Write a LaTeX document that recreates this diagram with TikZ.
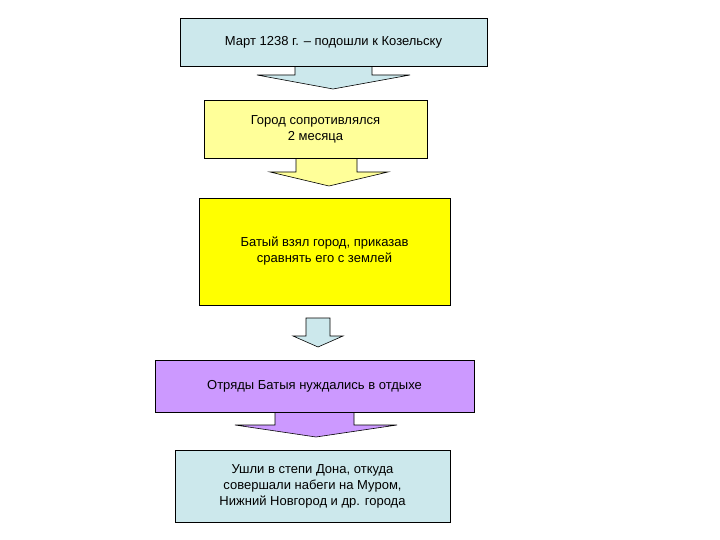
\documentclass[tikz,border=0pt]{standalone}
\usepackage{fontspec}
\setmainfont{Liberation Sans}
\definecolor{cy}{HTML}{CCE8EC}
\definecolor{ly}{HTML}{FFFF99}
\definecolor{yy}{HTML}{FFFF00}
\definecolor{lv}{HTML}{CC99FF}
\begin{document}
\begin{tikzpicture}[x=1pt,y=-1pt,
  box/.style={draw=black,line width=0.8pt,align=center,font=\fontsize{13}{16}\selectfont,inner sep=0pt},
  arr/.style={draw=black,line width=0.6pt}]
\useasboundingbox (0,0) rectangle (720,540);
% arrows (behind boxes)
\draw[arr,fill=cy] (295,60) -- (295,75) -- (257,75) -- (333,89) -- (410,75) -- (372,75) -- (372,60) -- cycle;
\draw[arr,fill=ly] (296,150) -- (296,172) -- (270,172) -- (329,186) -- (388,172) -- (357,172) -- (357,150) -- cycle;
\draw[arr,fill=cy] (306,318) -- (306,336) -- (293,336) -- (318,347) -- (343,336) -- (330,336) -- (330,318) -- cycle;
\draw[arr,fill=lv] (275,405) -- (275,425) -- (235,425) -- (316,437) -- (397,425) -- (354,425) -- (354,405) -- cycle;
% boxes
\node[box,fill=cy,minimum width=307,minimum height=48] (b1) at (333.5,42) {Март 1238 г. – подошли к Козельску};
\node[box,fill=ly,minimum width=223,minimum height=58] (b2) at (315.5,129) {Город сопротивлялся\\2 месяца};
\node[box,fill=yy,minimum width=251,minimum height=107] (b3) at (324.5,251.5) {Батый взял город, приказав\\сравнять его с землей};
\node[box,fill=lv,minimum width=319,minimum height=52] (b4) at (314.5,386) {Отряды Батыя нуждались в отдыхе};
\node[box,fill=cy,minimum width=275,minimum height=72] (b5) at (312.5,486) {Ушли в степи Дона, откуда\\совершали набеги на Муром,\\Нижний Новгород и др. города};
\end{tikzpicture}
\end{document}
